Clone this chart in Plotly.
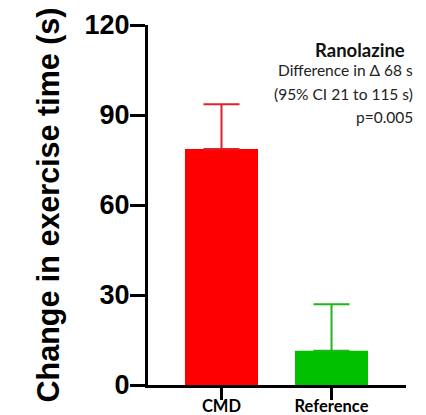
import plotly.graph_objects as go

categories = ["CMD", "Reference"]
means = [78.7, 11.4]
err_upper = [14.9, 15.5]
bar_colors = ["#ff0000", "#00c000"]
err_colors = ["#e0202c", "#1fb51f"]
y_ticks = [0, 30, 60, 90, 120]

annot_lines = [
    ("Difference in \u0394 68 s", 0.875),
    ("(95% CI 21 to 115 s)", 0.808),
    ("p=0.005", 0.744),
]

fig = go.Figure()
for cat, m, e, bc, ec in zip(categories, means, err_upper, bar_colors, err_colors):
    fig.add_trace(go.Bar(
        x=[cat], y=[m], width=0.664,
        marker=dict(color=bc, line=dict(width=0)),
        error_y=dict(type="data", symmetric=False, array=[e], arrayminus=[0],
                     color=ec, thickness=2, width=18),
        showlegend=False,
    ))

fig.update_layout(
    width=426, height=415,
    margin=dict(l=148, r=20, t=25, b=30),
    plot_bgcolor="white", paper_bgcolor="white",
    barmode="overlay",
    xaxis=dict(
        type="category", categoryorder="array", categoryarray=categories,
        range=[-0.668, 1.677],
        showline=True, linecolor="black", linewidth=3,
        ticks="outside", ticklen=12, tickwidth=3, tickcolor="black",
        tickfont=dict(family="Lato", size=16.5, color="black", weight="bold"),
        ticklabelstandoff=-8,
        showgrid=False, zeroline=False, fixedrange=True,
        automargin=False,
    ),
    yaxis=dict(
        range=[0, 120], tickvals=y_ticks,
        showline=True, linecolor="black", linewidth=3,
        ticks="outside", ticklen=15, tickwidth=3, tickcolor="black",
        tickfont=dict(family="Liberation Sans, Arial", size=27, color="black", weight="bold"),
        ticklabelstandoff=-5,
        showgrid=False, zeroline=False,
        title=dict(text="<b>Change in exercise time (s)</b>",
                   font=dict(family="Liberation Sans, Arial", size=30.5, color="black"),
                   standoff=16),
        automargin=False,
    ),
)

fig.add_annotation(
    text="<b>Ranolazine</b>", xref="paper", yref="paper",
    x=1.005, y=0.931, xanchor="right", yanchor="middle", showarrow=False,
    font=dict(family="Lato", size=18.5, color="#111111"),
)
for txt, yy in annot_lines:
    fig.add_annotation(
        text=txt, xref="paper", yref="paper",
        x=1.035, y=yy, xanchor="right", yanchor="middle", showarrow=False,
        font=dict(family="Lato", size=15.5, color="#222222"),
    )

fig.write_html("out.html")
